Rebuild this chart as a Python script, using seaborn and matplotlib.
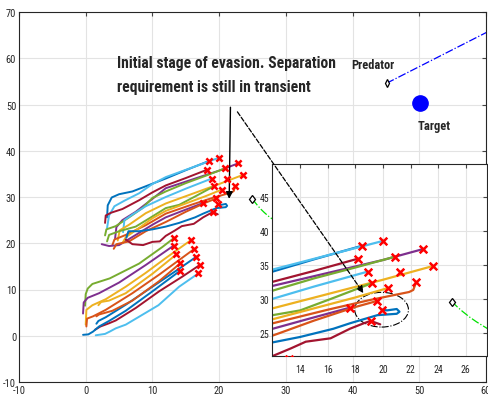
import pandas as pd
import seaborn as sns
import matplotlib.pyplot as plt
from matplotlib import font_manager as fm
from matplotlib.patches import Ellipse

sns.set_style('white')

# %% pick the narrowest sans installed (the original uses a condensed helvetica)
candidates = [('Roboto Condensed', 'normal'), ('Open Sans Condensed', 'normal'), ('Noto Sans', 'condensed'),
              ('Liberation Sans Narrow', 'normal'), ('DejaVu Sans', 'condensed'), ('Liberation Sans', 'normal')]
NARROW = dict(family='Liberation Sans', stretch='normal')
for fam, st in candidates:
    try:
        path = fm.findfont(fm.FontProperties(family=fam, stretch=st, weight='bold'), fallback_to_default=False)
    except ValueError:
        continue
    if st == 'condensed' and 'ondens' not in path:
        continue
    NARROW = dict(family=fam, stretch=st)
    break
plt.rcParams['font.family'] = [NARROW['family'], 'DejaVu Sans']
plt.rcParams['font.stretch'] = NARROW['stretch']
plt.rcParams['axes.unicode_minus'] = False

# matlab colour order
c_b, c_o, c_y, c_p, c_g, c_lb, c_r = '#0072BD', '#D95319', '#EDB120', '#7E2F8E', '#77AC30', '#4DBEEE', '#A2142F'

# %% lower swarm (already separated)
lower_colors = [c_g, c_y, c_p, c_o, c_y, c_b, c_o, c_r, c_b, c_lb]
lower_x = [
    [-0.1, 0.0, 0.3, 1.0, 3.6, 8.0, 11.5, 13.2],
    [0.0, 0.1, 1.0, 3.0, 6.0, 9.0, 12.0, 15.8],
    [-0.4, -0.3, 0.3, 2.0, 5.0, 9.0, 13.2],
    [0.1, 0.2, 1.1, 3.0, 7.0, 11.0, 16.3],
    [1.9, 2.3, 3.5, 6.0, 10.0, 13.6],
    [1.6, 1.9, 3.0, 6.0, 10.0, 13.5, 16.6],
    [1.6, 2.0, 4.0, 7.0, 11.0, 14.2],
    [1.4, 2.2, 3.5, 4.5, 7.5, 11.0, 14.5, 17.1],
    [-0.4, 0.4, 1.1, 2.0, 3.5, 6.0, 10.0, 14.1],
    [1.5, 2.9, 3.6, 4.5, 6.0, 10.9, 14.0, 16.9],
]
lower_y = [
    [6.5, 9.0, 10.2, 11.2, 12.4, 15.6, 19.2, 21.1],
    [2.4, 5.6, 6.6, 7.9, 10.6, 13.6, 16.8, 20.7],
    [4.8, 7.2, 8.2, 9.2, 11.5, 15.3, 19.5],
    [2.0, 3.7, 4.2, 5.6, 9.2, 13.2, 18.8],
    [6.6, 7.3, 7.6, 9.2, 13.4, 17.6],
    [2.6, 3.2, 4.0, 6.7, 10.6, 14.0, 17.1],
    [4.2, 4.6, 5.4, 7.6, 11.8, 15.7],
    [1.3, 2.0, 2.7, 3.3, 6.0, 9.6, 12.8, 15.3],
    [0.2, 0.3, 0.9, 2.0, 3.2, 5.4, 9.6, 14.0],
    [0.1, 0.4, 0.9, 1.6, 2.4, 6.6, 10.6, 13.5],
]
lower_mark_x = [13.2, 15.8, 13.2, 16.3, 13.6, 16.6, 14.2, 17.1, 14.1, 16.9]
lower_mark_y = [21.1, 20.7, 19.5, 18.8, 17.6, 17.1, 15.7, 15.3, 14.0, 13.5]

# %% upper swarm (initial stage of evasion)
upper_colors = [c_b, c_lb, c_r, c_p, c_g, c_lb, c_y, c_g, c_o, c_p, c_y, c_o, c_b, c_r]
upper_x = [
    [3.2, 3.3, 3.9, 5.0, 7.0, 9.5, 12.0, 15.0, 18.5],
    [3.2, 3.5, 4.3, 5.8, 8.0, 10.0, 12.0, 16.0, 20.0],
    [2.9, 3.0, 3.8, 5.5, 8.0, 10.0, 12.0, 15.0, 18.2],
    [4.4, 4.6, 5.5, 7.5, 10.0, 12.0, 16.0, 20.0, 22.9],
    [2.9, 3.1, 4.5, 6.5, 8.5, 10.0, 12.0, 15.0, 18.0, 20.9],
    [5.6, 5.8, 7.0, 9.0, 12.0, 15.0, 18.9],
    [4.8, 5.1, 6.5, 9.0, 12.0, 16.0, 20.0, 23.6],
    [3.2, 3.5, 5.0, 7.5, 10.0, 12.0, 14.0, 16.5, 19.2],
    [4.0, 4.3, 6.0, 9.0, 12.0, 16.0, 19.0, 21.9, 22.2, 22.4],
    [2.4, 3.5, 5.0, 7.5, 10.0, 12.0, 14.5, 17.6],
    [5.5, 6.0, 8.0, 10.0, 12.0, 15.0, 18.0, 20.4],
    [4.2, 4.6, 6.5, 9.0, 12.0, 15.0, 18.0, 19.6],
    [6.1, 6.4, 8.0, 10.0, 12.0, 14.0, 16.4, 17.6, 19.6, 21.0, 21.2, 21.0, 20.3, 19.9],
    [6.0, 7.0, 8.6, 10.0, 11.1, 12.0, 13.3, 14.4, 16.2, 17.6, 18.6, 19.1, 19.8],
]
upper_y = [
    [25.6, 28.2, 29.9, 30.6, 31.2, 32.6, 34.0, 35.8, 37.8],
    [23.3, 26.0, 28.0, 29.2, 30.8, 32.8, 34.3, 36.4, 38.5],
    [24.4, 26.0, 26.6, 27.4, 29.3, 31.0, 32.5, 34.1, 35.9],
    [21.0, 23.5, 25.0, 26.8, 29.6, 31.9, 33.8, 35.7, 37.3],
    [21.7, 23.0, 23.7, 25.6, 27.6, 29.8, 31.2, 33.0, 34.6, 36.2],
    [22.4, 25.0, 26.2, 28.0, 30.0, 31.8, 34.0],
    [20.6, 22.8, 24.0, 26.5, 28.6, 30.7, 32.8, 34.8],
    [20.4, 21.8, 22.6, 23.6, 25.8, 27.6, 28.3, 30.2, 32.3],
    [19.6, 20.8, 21.8, 23.9, 26.4, 28.4, 29.8, 31.0, 31.3, 32.4],
    [19.8, 19.4, 19.6, 21.8, 24.0, 25.6, 27.0, 28.7],
    [20.0, 21.3, 23.3, 25.4, 27.0, 28.6, 30.2, 31.6],
    [18.8, 19.8, 20.4, 22.6, 24.6, 26.8, 28.8, 29.7],
    [21.2, 22.6, 22.6, 23.0, 23.6, 24.4, 25.6, 26.4, 27.6, 27.8, 28.1, 28.5, 28.3, 28.4],
    [20.8, 19.8, 19.6, 20.3, 20.4, 21.6, 22.7, 23.7, 24.2, 25.6, 26.4, 26.75, 26.25],
]
upper_mark_x = [18.5, 20.0, 18.2, 20.9, 22.9, 18.9, 21.25, 23.6, 19.2, 20.4, 22.4, 17.6, 19.6, 19.9, 19.1]
upper_mark_y = [37.8, 38.5, 35.9, 36.2, 37.3, 34.0, 33.9, 34.8, 32.3, 31.6, 32.4, 28.7, 29.7, 28.4, 26.75]

# other agents
pred_x, pred_y = [45.1, 62.0], [54.6, 67.0]
target_x, target_y = [50.1], [50.4]
obst_x = [25.0, 25.4, 25.8, 26.3, 26.8, 27.6, 28.5]
obst_y = [29.6, 28.8, 28.1, 27.3, 26.6, 25.6, 24.8]


def to_df(xs, ys, tag):
    parts = [pd.DataFrame({'x': x, 'y': y, 'agent': f'{tag}{i}'}) for i, (x, y) in enumerate(zip(xs, ys))]
    return pd.concat(parts, ignore_index=True)


df_low = to_df(lower_x, lower_y, 'l')
df_up = to_df(upper_x, upper_y, 'u')
pal = {f'l{i}': c for i, c in enumerate(lower_colors)}
pal.update({f'u{i}': c for i, c in enumerate(upper_colors)})
marks = pd.DataFrame({'x': lower_mark_x + upper_mark_x, 'y': lower_mark_y + upper_mark_y})


def draw(a, lw, ms):
    for d in (df_low, df_up):
        sns.lineplot(data=d, x='x', y='y', hue='agent', palette=pal, units='agent', estimator=None,
                     sort=False, lw=lw, legend=False, ax=a)
    sns.scatterplot(data=marks, x='x', y='y', marker='x', color='red', s=ms, linewidth=1.8, zorder=5, ax=a)
    a.plot(obst_x, obst_y, ls='-.', color='#00e000', lw=0.9)
    a.plot(obst_x[:1], obst_y[:1], 'd', mfc='white', mec='black', ms=4.5, mew=0.9)


def style(a, fs):
    a.grid(True, color='#e3e3e3', lw=0.8)
    a.tick_params(direction='in', top=True, right=True, length=3, labelsize=fs, pad=2, color='#444444')
    for s in a.spines.values():
        s.set_color('#262626')
        s.set_linewidth(0.8)
    a.set_xlabel('')
    a.set_ylabel('')


def fit_width(t, px):
    # scale a label so it spans the same width as in the original
    r = fig.canvas.get_renderer()
    w = t.get_window_extent(renderer=r).width
    t.set_fontsize(t.get_fontsize() * px / w)


fig = plt.figure(figsize=(4.89, 4.02), dpi=100)
ax = fig.add_axes([19 / 489, 19 / 402, 467 / 489, 370 / 402])
draw(ax, 1.4, 20)
ax.plot(pred_x, pred_y, ls='-.', color='blue', lw=0.9)
ax.plot(pred_x[:1], pred_y[:1], 'd', mfc='white', mec='black', ms=4, mew=0.9)
ax.plot(target_x, target_y, 'o', color='blue', ms=11)
t_pred = ax.text(43.1, 58.7, 'Predator', ha='center', va='center', fontsize=10, fontweight='bold')
t_targ = ax.text(52.2, 45.4, 'Target', ha='center', va='center', fontsize=10, fontweight='bold')
t_main = ax.text(4.7, 60.6, 'Initial stage of evasion. Separation\nrequirement is still in transient',
                 ha='left', va='top', fontsize=13, fontweight='bold', linespacing=1.75)
ax.annotate('', xy=(21.5, 29.0), xytext=(21.7, 50.0),
            arrowprops=dict(arrowstyle='-|>', color='black', lw=1.0, mutation_scale=10))
ax.set_xlim(-10, 60)
ax.set_ylim(-10, 70)
ax.set_xticks(range(-10, 61, 10))
ax.set_yticks(range(-10, 71, 10))
style(ax, 7.5)

axin = fig.add_axes([272 / 489, 45 / 402, 215 / 489, 192 / 402])
axin.set_facecolor('white')
draw(axin, 1.6, 30)
axin.add_patch(Ellipse((19.9, 28.4), 3.9, 5.1, fill=False, ls='-.', color='black', lw=0.8))
axin.set_xlim(11.95, 27.55)
axin.set_ylim(21.6, 49.8)
axin.set_xticks(range(14, 27, 2))
axin.set_yticks(range(25, 46, 5))
style(axin, 7)
axin.tick_params(axis='x', pad=6)
axin.annotate('', xy=(18.7, 30.5), xycoords='data', xytext=(22.5, 48.9), textcoords=ax.transData,
              arrowprops=dict(arrowstyle='-|>', color='black', lw=0.9, ls='--', mutation_scale=10),
              annotation_clip=False)

fig.canvas.draw()
fit_width(t_main, 218)
fit_width(t_pred, 43)
fit_width(t_targ, 33)
fig.savefig('out.png', dpi=100)
